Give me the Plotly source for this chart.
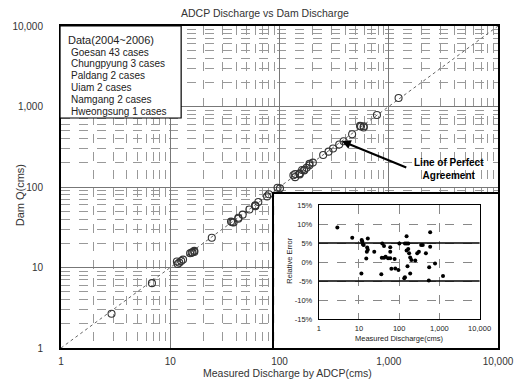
import plotly.graph_objects as go

# ADCP measured discharge (cms), dam-reported discharge (cms) and relative error (%)
adcp_q = [2.9, 6.8, 11.7, 12.1, 12.6, 13.1, 16.6, 16.0, 16.6, 15.7, 15.2, 11.5, 24, 38, 42,
          37, 42, 46, 53, 60, 36, 60, 60, 64, 77, 80, 96, 101, 139, 153, 168, 153, 153, 168,
          177, 188, 202, 161, 139, 134, 251, 281, 309, 352, 386, 188, 462, 590, 590, 557,
          546, 780, 1230]
dam_q = [2.66, 6.39, 11.06, 11.48, 12.05, 12.54, 15.63, 15.41, 16.09, 15.29, 15.06, 11.86,
         23.37, 36.22, 40.31, 36.60, 41.54, 45.36, 52.48, 59.41, 37.19, 57.75, 58.42, 65.17,
         76.39, 81.38, 98.06, 96.28, 132.5, 145.9, 160.2, 143.3, 148.5, 162.5, 173.0, 185.8,
         201.0, 162.8, 144.8, 140.0, 250.0, 274.7, 300.9, 336.8, 369.4, 193.8, 451.6, 547.3,
         567.3, 564.9, 574.1, 783.1, 1277]
rel_err = [9.1, 6.4, 5.8, 5.4, 4.6, 4.5, 6.2, 3.8, 3.2, 2.7, 0.9, -3.0, 2.7, 4.9, 4.2, 1.1,
           1.1, 1.4, 1.0, 1.0, -3.2, 3.9, 2.7, -1.8, 0.8, -1.7, -2.1, 4.9, 4.9, 4.9, 4.9, 6.8,
           3.0, 3.4, 2.3, 1.2, 0.5, -1.1, -4.0, -4.3, 0.4, 2.3, 2.7, 4.5, 4.5, -3.0, 2.3, 7.8,
           4.0, -1.4, -4.9, -0.4, -3.7]

perfect_line = [1, 10000]
error_band = [-5, 5]

q_ticks = [1, 10, 100, 1000, 10000]
q_tick_text = ["1", "10", "100", "1,000", "10,000"]
err_ticks = [-15, -10, -5, 0, 5, 10, 15]
err_tick_text = ["-15%", "-10%", "-5%", "0%", "5%", "10%", "15%"]

data_note = ["Data(2004~2006)", "Goesan 43 cases", "Chungpyung 3 cases", "Paldang 2 cases",
             "Uiam 2 cases", "Namgang 2 cases", "Hweongsung 1 cases"]

# page geometry (pixels) of the main plotting area
W, H = 526, 381
L, R, T, B = 57, 508, 26, 348


def px(X):
    return (X - L) / (R - L)


def py(Y):
    return (B - Y) / (B - T)


FONT = "Liberation Sans, Arial, sans-serif"
minor_vals = [m * 10 ** d for d in range(4) for m in range(2, 10)]

fig = go.Figure()

fig.add_trace(go.Scatter(
    x=perfect_line, y=perfect_line, mode="lines",
    line=dict(color="#666", width=1, dash="dot"), hoverinfo="skip"))

fig.add_trace(go.Scatter(
    x=adcp_q, y=dam_q, mode="markers",
    marker=dict(symbol="circle-open", size=7, color="#333", line=dict(width=1.1))))

# white backing panel for the inset
fig.add_trace(go.Scatter(x=[], y=[], xaxis="x2", yaxis="y2", hoverinfo="skip"))

fig.add_trace(go.Scatter(
    x=adcp_q, y=rel_err, mode="markers", xaxis="x3", yaxis="y3",
    marker=dict(symbol="circle", size=4, color="black")))

main_axis = dict(
    type="log", range=[0, 4], tickmode="array", tickvals=q_ticks, ticktext=q_tick_text,
    showgrid=True, gridcolor="#777", gridwidth=1,
    minor=dict(tickmode="array", tickvals=minor_vals, showgrid=True, gridcolor="#999",
               griddash="dash", gridwidth=1, ticks=""),
    showline=True, mirror=True, linecolor="black", linewidth=2, ticks="", zeroline=False,
    tickfont=dict(family=FONT, size=10, color="#333"))

panel_axis = dict(range=[0, 1], showgrid=False, showticklabels=False, zeroline=False,
                  ticks="", showline=True, mirror=True, linecolor="black", linewidth=1.5)

inset_font = dict(family=FONT, size=7.5, color="#222")

fig.update_layout(
    width=W, height=H,
    margin=dict(l=L, r=W - R, t=T, b=H - B, pad=0),
    paper_bgcolor="white", plot_bgcolor="white",
    showlegend=False, hovermode=False,
    xaxis=dict(main_axis, ticklabelstandoff=3),
    yaxis=dict(main_axis, ticklabelstandoff=14),
    xaxis2=dict(panel_axis, domain=[px(277), 1], anchor="y2"),
    yaxis2=dict(panel_axis, domain=[0, py(194)], anchor="x2"),
    xaxis3=dict(type="log", range=[0, 4], domain=[px(323), px(489)], anchor="y3",
                tickmode="array", tickvals=q_ticks, ticktext=q_tick_text,
                showgrid=True, gridcolor="#888", griddash="dash", gridwidth=1,
                showline=True, mirror=True, linecolor="black", linewidth=1,
                ticks="", zeroline=False, tickfont=inset_font, ticklabelstandoff=2),
    yaxis3=dict(range=[-15, 15], domain=[py(319), py(205)], anchor="x3",
                tickmode="array", tickvals=err_ticks, ticktext=err_tick_text,
                showgrid=True, gridcolor="#888", griddash="dash", gridwidth=1,
                showline=True, mirror=True, linecolor="black", linewidth=1,
                ticks="", zeroline=False, tickfont=inset_font, ticklabelstandoff=4),
)

# +-5% error band lines in the inset
for lim in error_band:
    fig.add_shape(type="line", xref="x3 domain", yref="y3", x0=0, x1=1, y0=lim, y1=lim,
                  line=dict(color="black", width=1.5), layer="above")

# data summary box
fig.add_shape(type="rect", xref="paper", yref="paper", x0=px(56), x1=px(181),
              y0=py(118), y1=py(26), fillcolor="white",
              line=dict(color="black", width=1.2), layer="above")
line_y = [40, 52, 63, 75, 87, 99, 111]
for i, (txt, yy) in enumerate(zip(data_note, line_y)):
    fig.add_annotation(xref="paper", yref="paper", x=px(62 if i == 0 else 65), y=py(yy),
                       text=txt, showarrow=False, xanchor="left", yanchor="middle",
                       font=dict(family=FONT, size=11 if i == 0 else 10, color="#222"))

# titles
fig.add_annotation(xref="paper", yref="paper", x=px(268), y=py(13),
                   text="ADCP Discharge vs Dam Discharge", showarrow=False,
                   xanchor="center", yanchor="middle",
                   font=dict(family=FONT, size=10.5, color="#333"))
fig.add_annotation(xref="paper", yref="paper", x=px(291), y=py(373),
                   text="Measured Discharge by ADCP(cms)", showarrow=False,
                   xanchor="center", yanchor="middle",
                   font=dict(family=FONT, size=10.5, color="#333"))
fig.add_annotation(xref="paper", yref="paper", x=px(15), y=py(195),
                   text="Dam Q(cms)", showarrow=False, textangle=-90,
                   xanchor="center", yanchor="middle",
                   font=dict(family=FONT, size=11, color="#333"))

# inset titles
fig.add_annotation(xref="paper", yref="paper", x=px(292), y=py(261),
                   text="Relative Error", showarrow=False, textangle=-90,
                   xanchor="center", yanchor="middle", font=inset_font)
fig.add_annotation(xref="paper", yref="paper", x=px(406), y=py(338),
                   text="Measured Discharge(cms)", showarrow=False,
                   xanchor="center", yanchor="middle", font=inset_font)

# perfect-agreement callout
fig.add_annotation(xref="x", yref="y", x=2.57, y=2.57, ax=66, ay=27, text="",
                   showarrow=True, arrowhead=2, arrowsize=0.9, arrowwidth=2,
                   arrowcolor="black")
fig.add_annotation(xref="paper", yref="paper", x=px(457), y=py(169),
                   text="<b>Line of Perfect<br>Agreement</b>", showarrow=False,
                   xanchor="center", yanchor="middle",
                   font=dict(family=FONT, size=10, color="black"))

fig.write_html("out.html")
